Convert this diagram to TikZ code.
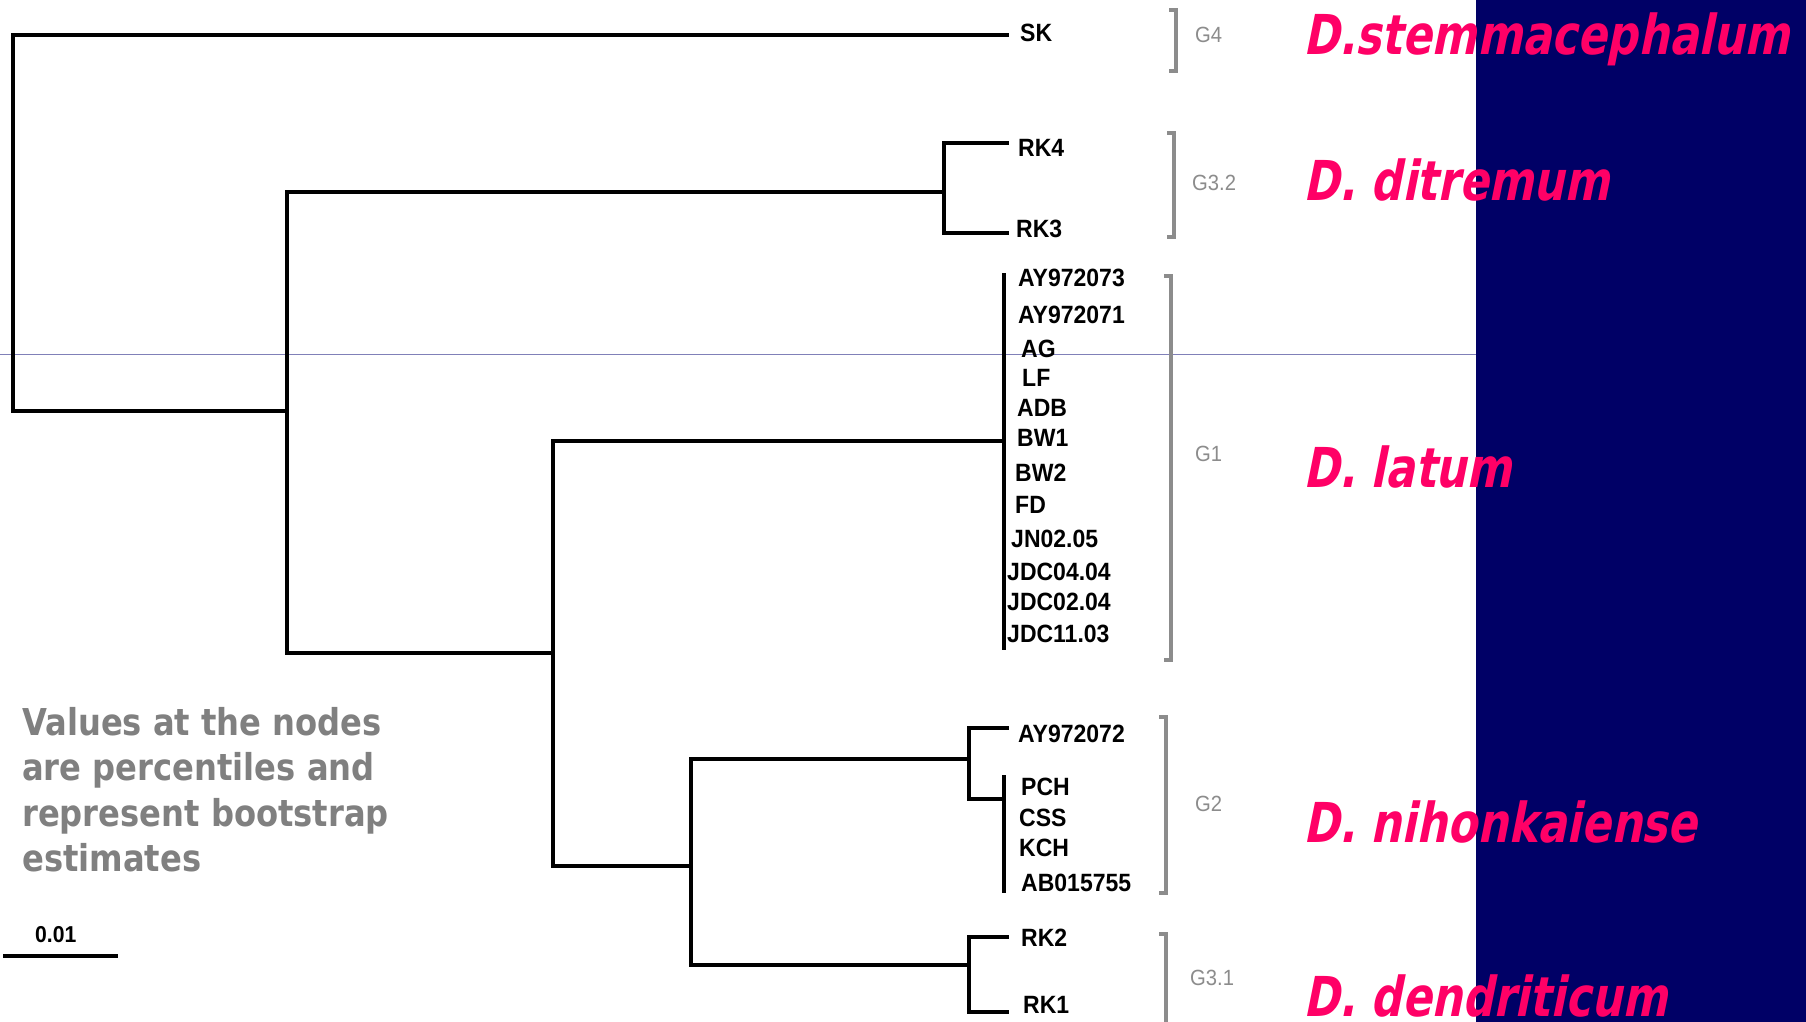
\documentclass[tikz,border=0pt]{standalone}
\usepackage{fontspec}
\setmainfont{Liberation Sans}
\newfontfamily\labfont{Liberation Sans}[FakeStretch=0.92]
\newfontfamily\redfont{DejaVu Sans Bold}[FakeSlant=0.2,FakeStretch=0.79]
\newfontfamily\notefont{DejaVu Sans Bold}[FakeStretch=0.87]
\definecolor{navypanel}{HTML}{000066}
\definecolor{speciesred}{HTML}{FF0066}
\definecolor{grpgray}{HTML}{8C8C8C}
\definecolor{notegray}{HTML}{808080}
\definecolor{guideline}{HTML}{8080B8}
\begin{document}
\begin{tikzpicture}[x=1pt,y=-1pt,
  br/.style={line width=4pt, black, line join=miter, line cap=rect},
  leaf/.style={anchor=base west, inner sep=0pt, font=\labfont\bfseries\fontsize{25}{30}\selectfont},
  grp/.style={anchor=base west, inner sep=0pt, text=grpgray, font=\labfont\fontsize{22}{26}\selectfont},
  bracket/.style={line width=3.5pt, draw=grpgray},
  species/.style={anchor=base west, inner sep=0pt, text=speciesred, font=\redfont\fontsize{55}{60}\selectfont},
  note/.style={anchor=base west, inner sep=0pt, text=notegray, font=\notefont\fontsize{37}{45}\selectfont}]
\useasboundingbox (0,0) rectangle (1806,1022);
\fill[white] (0,0) rectangle (1476,1022);
\fill[navypanel] (1476,0) rectangle (1806,1022);
\draw[guideline, line width=1pt] (0,354) -- (1476,354);

% internal nodes
\coordinate (n0) at (13,223);
\coordinate (n1) at (287,411);
\coordinate (n2) at (944,192);
\coordinate (n3) at (553,653);
\coordinate (n4) at (1004,441);
\coordinate (n5) at (691,866);
\coordinate (n6) at (969,759);
\coordinate (n7) at (1004,799);
\coordinate (n8) at (969,965);
% tips
\coordinate (tSK) at (1007,35);
\coordinate (tRK4) at (1007,143);
\coordinate (tRK3) at (1007,233);
\coordinate (tAY72) at (1007,728);
\coordinate (tRK2) at (1007,937);
\coordinate (tRK1) at (1007,1012);
\coordinate (g1top) at (1004,275);
\coordinate (g1bot) at (1004,648);
\coordinate (g2top) at (1004,777);
\coordinate (g2bot) at (1004,891);

\draw[br] (tSK) -| (n0) |- (n1);
\draw[br] (n1) |- (n2);
\draw[br] (n2) |- (tRK4);
\draw[br] (n2) |- (tRK3);
\draw[br] (n1) |- (n3);
\draw[br] (n3) |- (n4);
\draw[br] (g1top) -- (g1bot);
\draw[br] (n3) |- (n5);
\draw[br] (n5) |- (n6);
\draw[br] (n5) |- (n8);
\draw[br] (n6) |- (tAY72);
\draw[br] (n6) |- (n7);
\draw[br] (g2top) -- (g2bot);
\draw[br] (n8) |- (tRK2);
\draw[br] (n8) |- (tRK1);

% leaf labels
\node[leaf] (SK) at (1020,42) {SK};
\node[leaf] (RK4) at (1018,156) {RK4};
\node[leaf] (RK3) at (1016,237) {RK3};
\node[leaf] (AY73) at (1018,286) {AY972073};
\node[leaf] (AY71) at (1018,323) {AY972071};
\node[leaf] (AG) at (1021,357) {AG};
\node[leaf] (LF) at (1022,386) {LF};
\node[leaf] (ADB) at (1017,416) {ADB};
\node[leaf] (BW1) at (1017,446) {BW1};
\node[leaf] (BW2) at (1015,481) {BW2};
\node[leaf] (FD) at (1015,513) {FD};
\node[leaf] (JN) at (1011,547) {JN02.05};
\node[leaf] (JDCa) at (1007,580) {JDC04.04};
\node[leaf] (JDCb) at (1007,610) {JDC02.04};
\node[leaf] (JDCc) at (1007,642) {JDC11.03};
\node[leaf] (AY72) at (1018,742) {AY972072};
\node[leaf] (PCH) at (1021,795) {PCH};
\node[leaf] (CSS) at (1019,826) {CSS};
\node[leaf] (KCH) at (1019,856) {KCH};
\node[leaf] (AB) at (1021,891) {AB015755};
\node[leaf] (RK2) at (1021,946) {RK2};
\node[leaf] (RK1) at (1023,1013) {RK1};

% brackets
\coordinate (bG4t) at (1169,10);   \coordinate (bG4b) at (1169,71);
\coordinate (bG32t) at (1167,133); \coordinate (bG32b) at (1167,237);
\coordinate (bG1t) at (1164,276);  \coordinate (bG1b) at (1164,660);
\coordinate (bG2t) at (1159,717);  \coordinate (bG2b) at (1159,893);
\coordinate (bG31t) at (1159,934); \coordinate (bG31b) at (1166,1024);
\draw[bracket] (bG4t) -- ++(7,0) |- (bG4b);
\draw[bracket] (bG32t) -- ++(7,0) |- (bG32b);
\draw[bracket] (bG1t) -- ++(7,0) |- (bG1b);
\draw[bracket] (bG2t) -- ++(7,0) |- (bG2b);
\draw[bracket] (bG31t) -- ++(7,0) -- (bG31b);

\node[grp] (G4) at (1195,43) {G4};
\node[grp] (G32) at (1192,190) {G3.2};
\node[grp] (G1) at (1195,461) {G1};
\node[grp] (G2) at (1195,811) {G2};
\node[grp] (G31) at (1190,985) {G3.1};

% species names
\node[species] (sp1) at (1303,55) {D.stemmacephalum};
\node[species] (sp2) at (1303,200) {D. ditremum};
\node[species] (sp3) at (1303,487) {D. latum};
\node[species] (sp4) at (1303,842) {D. nihonkaiense};
\node[species] (sp5) at (1303,1016) {D. dendriticum};

% note
\node[note] (note1) at (22,735) {Values at the nodes};
\node[note] (note2) at (22,780) {are percentiles and};
\node[note] (note3) at (22,826) {represent bootstrap};
\node[note] (note4) at (22,871) {estimates};

% scale bar
\coordinate (sbl) at (3,956);
\coordinate (sbr) at (118,956);
\draw[line width=4pt] (sbl) -- (sbr);
\node[leaf, font=\labfont\bfseries\fontsize{23}{28}\selectfont] (scale) at (35,942) {0.01};
\end{tikzpicture}
\end{document}
